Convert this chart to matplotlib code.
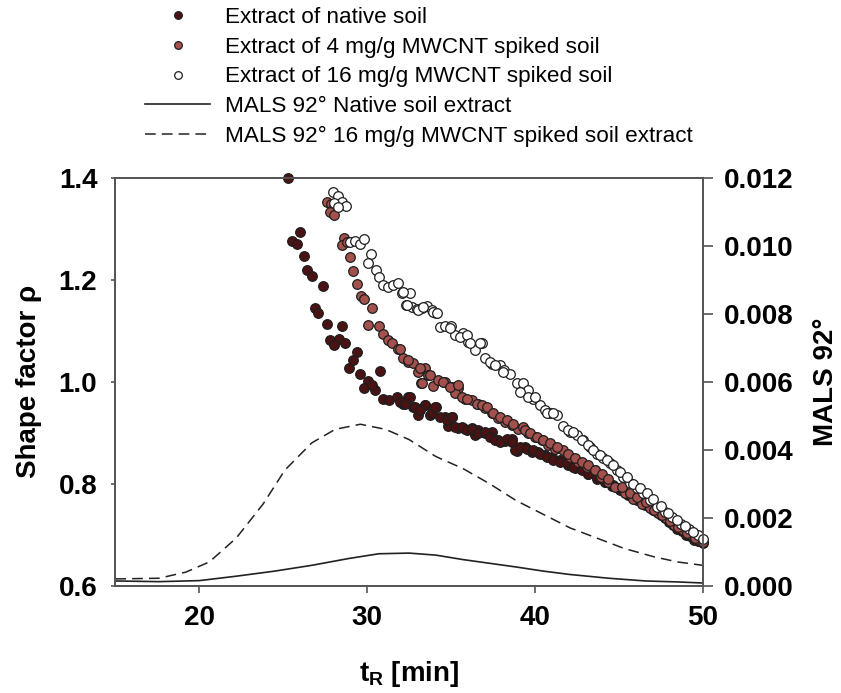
from matplotlib import pyplot as plt
from matplotlib.lines import Line2D

plt.rcParams['font.family'] = ['Liberation Sans', 'DejaVu Sans']
plt.rcParams['mathtext.fontset'] = 'custom'
plt.rcParams['mathtext.rm'] = 'Liberation Sans'
plt.rcParams['mathtext.bf'] = 'Liberation Sans:bold'

# Shape factor, extract of native soil
native_t = [25.3, 26.0, 25.5, 25.8, 26.26, 26.4, 26.7, 27.4, 26.9, 27.1,
            27.59, 28.5, 27.8, 28.3, 28.05, 28.7, 29.4, 29.14, 28.9, 29.6,
            30.8, 30.07, 29.8, 30.47, 30.27, 30.97, 31.3, 31.76, 32.05, 32.45,
            32.16, 32.75, 33.05, 33.45, 34.08, 33.75, 34.64, 35.04, 34.8, 35.43,
            35.83, 36.23, 36.63, 36.43, 37.02, 37.42, 37.82, 38.22, 38.61, 38.91,
            39.41, 39.8, 40.2, 40.6, 41.0, 41.5, 41.99, 42.39, 42.78, 43.18,
            43.68, 44.17, 44.57, 45.07, 45.56, 46.06, 46.56, 47.05, 47.5, 48.0,
            48.5, 49.0, 49.5, 50.0,
            31.96, 32.56, 32.26, 32.85, 33.45, 33.15, 33.85, 34.05, 34.34, 34.74,
            35.04, 35.24, 35.64, 35.93, 36.23, 36.63, 37.03, 37.32, 37.62, 37.92,
            38.32, 38.61, 38.81, 39.11, 39.51, 39.91, 40.3, 40.7, 41.1, 41.5,
            41.89, 42.29, 42.79, 43.18, 43.68, 44.18, 44.67, 45.17, 45.67, 46.3,
            46.8, 47.3, 47.75, 48.25, 48.75, 49.25, 49.75]
native_rho = [1.400, 1.294, 1.276, 1.270, 1.246, 1.219, 1.207, 1.188, 1.144, 1.135,
              1.114, 1.109, 1.082, 1.083, 1.072, 1.075, 1.059, 1.042, 1.026, 1.015,
              1.021, 1.002, 0.987, 0.984, 0.993, 0.966, 0.964, 0.970, 0.961, 0.970,
              0.956, 0.950, 0.935, 0.954, 0.950, 0.935, 0.931, 0.930, 0.913, 0.910,
              0.908, 0.910, 0.905, 0.895, 0.899, 0.902, 0.886, 0.884, 0.887, 0.865,
              0.873, 0.863, 0.863, 0.856, 0.853, 0.846, 0.837, 0.830, 0.837, 0.820,
              0.810, 0.804, 0.795, 0.788, 0.778, 0.768, 0.758, 0.748, 0.738, 0.725,
              0.712, 0.700, 0.690, 0.684,
              0.961, 0.970, 0.957, 0.951, 0.954, 0.944, 0.938, 0.951, 0.931, 0.925,
              0.931, 0.912, 0.912, 0.905, 0.908, 0.899, 0.902, 0.892, 0.885, 0.882,
              0.887, 0.882, 0.866, 0.872, 0.869, 0.866, 0.859, 0.853, 0.846, 0.843,
              0.840, 0.833, 0.827, 0.820, 0.814, 0.804, 0.797, 0.791, 0.781, 0.768,
              0.757, 0.745, 0.733, 0.720, 0.707, 0.697, 0.688]

# Shape factor, extract of 4 mg/g MWCNT spiked soil
spiked4_t = [27.59, 27.85, 27.98, 27.79, 28.04, 28.64, 28.48, 28.78, 28.98, 29.14,
             29.37, 29.63, 29.83, 30.27, 30.07, 30.73, 30.92, 31.22, 31.46, 31.86,
             32.16, 32.45, 32.75, 33.05, 33.45, 33.2, 33.65, 33.94, 34.24, 34.64,
             35.04, 35.43, 35.24, 35.83, 36.23, 36.63, 37.02, 37.42, 37.82, 38.22,
             38.61, 39.01, 39.31, 39.6, 40.0, 40.4, 40.8, 41.2, 41.69, 42.09,
             42.59, 43.08, 43.58, 43.97, 44.37, 44.77, 45.37, 45.86, 46.36, 46.86,
             47.35, 47.8, 48.3, 48.8, 49.3, 49.8, 50.0,
             31.96, 32.46, 33.15, 33.25, 33.75, 34.54, 34.94, 35.44, 35.64, 35.93,
             36.53, 36.83, 37.12, 37.52, 37.92, 38.32, 38.71, 39.41, 39.71, 40.1,
             40.5, 40.9, 41.3, 41.99, 42.39, 42.79, 43.18, 43.58, 43.98, 44.38,
             45.17, 45.67, 46.06, 46.6, 47.1, 47.6, 48.05, 48.55, 49.05, 49.55]
spiked4_rho = [1.353, 1.348, 1.338, 1.333, 1.327, 1.281, 1.268, 1.274, 1.244, 1.218,
               1.191, 1.168, 1.163, 1.144, 1.112, 1.110, 1.093, 1.082, 1.075, 1.064,
               1.046, 1.039, 1.036, 1.020, 1.026, 0.998, 1.013, 0.991, 1.003, 1.000,
               0.990, 0.987, 0.977, 0.967, 0.964, 0.957, 0.948, 0.938, 0.928, 0.922,
               0.915, 0.908, 0.912, 0.899, 0.892, 0.886, 0.876, 0.869, 0.866, 0.853,
               0.843, 0.833, 0.827, 0.814, 0.804, 0.794, 0.781, 0.771, 0.761, 0.752,
               0.742, 0.733, 0.720, 0.710, 0.700, 0.690, 0.686,
               1.065, 1.042, 1.026, 0.997, 1.013, 1.000, 0.990, 0.993, 0.970, 0.967,
               0.957, 0.954, 0.951, 0.938, 0.931, 0.925, 0.918, 0.905, 0.899, 0.892,
               0.885, 0.879, 0.872, 0.859, 0.850, 0.843, 0.836, 0.827, 0.820, 0.810,
               0.794, 0.781, 0.774, 0.764, 0.748, 0.738, 0.727, 0.715, 0.704, 0.694]

# Shape factor, extract of 16 mg/g MWCNT spiked soil
spiked16_t = [27.98, 28.24, 28.48, 28.72, 28.04, 28.28, 28.98, 29.28, 29.57, 29.83,
              30.23, 30.07, 30.53, 30.73, 30.96, 31.26, 31.56, 31.86, 32.1, 32.55,
              32.31, 32.65, 32.95, 33.25, 33.55, 33.84, 34.1, 34.34, 34.64, 35.0,
              35.24, 35.73, 35.99, 36.43, 36.82, 37.02, 37.42, 37.92, 38.17, 38.51,
              38.91, 39.31, 39.6, 39.9, 40.3, 40.6, 40.9, 41.29, 41.69, 42.09,
              42.49, 42.88, 43.28, 43.68, 44.08, 44.47, 44.87, 45.27, 45.66, 46.06,
              46.46, 46.86, 47.25, 47.75, 48.2, 48.7, 49.2, 49.7, 50.0,
              32.16, 32.36, 33.05, 33.35, 33.95, 34.15, 34.94, 35.54, 35.93, 36.13,
              36.73, 37.32, 37.62, 38.12, 39.11, 39.61, 40.01, 40.7, 41.1, 41.99,
              42.29, 42.79, 43.18, 43.48, 43.88, 44.28, 44.67, 45.07, 45.47, 45.87,
              46.26, 46.66, 47.05, 47.5, 47.95, 48.45, 48.95, 49.45]
spiked16_rho = [1.372, 1.364, 1.353, 1.344, 1.350, 1.343, 1.274, 1.276, 1.270, 1.280,
                1.250, 1.233, 1.219, 1.205, 1.190, 1.186, 1.190, 1.193, 1.174, 1.174,
                1.150, 1.147, 1.142, 1.144, 1.148, 1.140, 1.135, 1.108, 1.109, 1.109,
                1.091, 1.095, 1.078, 1.062, 1.075, 1.046, 1.035, 1.033, 1.023, 1.016,
                0.997, 0.998, 0.984, 0.967, 0.954, 0.944, 0.938, 0.935, 0.913, 0.902,
                0.895, 0.886, 0.872, 0.859, 0.850, 0.840, 0.827, 0.814, 0.801, 0.791,
                0.781, 0.768, 0.755, 0.745, 0.735, 0.722, 0.712, 0.700, 0.692,
                1.176, 1.150, 1.140, 1.147, 1.137, 1.134, 1.106, 1.088, 1.091, 1.075,
                1.075, 1.039, 1.033, 1.019, 0.980, 0.970, 0.970, 0.938, 0.938, 0.905,
                0.902, 0.885, 0.876, 0.866, 0.856, 0.846, 0.836, 0.823, 0.814, 0.800,
                0.791, 0.781, 0.770, 0.757, 0.742, 0.729, 0.717, 0.705]

# MALS 92 deg traces
mals_native_t = [15.0, 17.6, 20.0, 22.2, 24.5, 26.7, 28.9, 30.7, 32.5, 34.1,
                 35.7, 37.3, 38.9, 40.5, 42.1, 44.4, 46.6, 48.6, 50.0]
mals_native = [0.00014, 0.00012, 0.00015, 0.00028, 0.00043, 0.00060, 0.00080,
               0.00094, 0.00096, 0.00090, 0.00077, 0.00066, 0.00055, 0.00043,
               0.00033, 0.00022, 0.00014, 0.00011, 0.00008]
mals_16_t = [15.0, 17.6, 19.2, 20.6, 22.2, 23.8, 25.1, 26.7, 28.1, 29.6,
             31.1, 32.5, 34.1, 35.7, 37.3, 38.9, 40.5, 42.1, 43.7, 45.3,
             47.1, 48.5, 50.0]
mals_16 = [0.00020, 0.00022, 0.00040, 0.00070, 0.00140, 0.00240, 0.00340,
           0.00420, 0.00460, 0.00475, 0.00460, 0.00430, 0.00380, 0.00345,
           0.00300, 0.00250, 0.00210, 0.00170, 0.00140, 0.00110, 0.00085,
           0.00070, 0.00060]

labels = [
    'Extract of native soil',
    'Extract of 4 mg/g MWCNT spiked soil',
    'Extract of 16 mg/g MWCNT spiked soil',
    'MALS 92\u00b0 Native soil extract',
    'MALS 92\u00b0 16 mg/g MWCNT spiked soil extract',
]

dark_red = '#4a1212'
mid_red = '#a4514d'
edge = '#1e1e1e'
line_col = '#222222'
spine_col = '#555555'

fig = plt.figure(figsize=(8.41, 6.93), dpi=100)
ax = fig.add_axes([0.1372, 0.1548, 0.6983, 0.5887])
ax2 = ax.twinx()
# scatter on top of the MALS lines
ax.set_zorder(ax2.get_zorder() + 1)
ax.patch.set_visible(False)

ax2.plot(mals_native_t, mals_native, color=line_col, lw=1.2)
ax2.plot(mals_16_t, mals_16, color=line_col, lw=1.1, dashes=(7, 4))

ax.scatter(native_t, native_rho, s=48, c=dark_red, edgecolors=edge,
           linewidths=0.9, clip_on=False)
ax.scatter(spiked4_t, spiked4_rho, s=48, c=mid_red, edgecolors=edge,
           linewidths=0.9, clip_on=False)
ax.scatter(spiked16_t, spiked16_rho, s=48, c='white', edgecolors=edge,
           linewidths=0.9, clip_on=False)

ax.set_xlim(15, 50)
ax.set_ylim(0.6, 1.4)
ax2.set_ylim(0, 0.012)

ax.set_xticks([20, 30, 40, 50])
ax.set_xticklabels(['20', '30', '40', '50'], fontweight='bold')
yt = [0.6, 0.8, 1.0, 1.2, 1.4]
ax.set_yticks(yt)
ax.set_yticklabels([format(v, '.1f') for v in yt], fontweight='bold')
yt2 = [0.0, 0.002, 0.004, 0.006, 0.008, 0.010, 0.012]
ax2.set_yticks(yt2)
ax2.set_yticklabels([format(v, '.3f') for v in yt2], fontweight='bold')

for a in (ax, ax2):
    for sp in a.spines.values():
        sp.set_color(spine_col)
        sp.set_linewidth(1.3)

ax.tick_params(axis='x', direction='out', length=5, width=1.2,
               color=spine_col, labelsize=20, pad=9)
ax.tick_params(axis='y', direction='out', length=3, width=1.2,
               color=spine_col, labelsize=20, pad=10)
ax2.tick_params(axis='y', direction='out', length=7, width=1.2,
                color=spine_col, labelsize=20, pad=8)

ax.set_ylabel('Shape factor \u03c1', fontsize=20, fontweight='bold',
              labelpad=12)
ax2.set_ylabel('MALS 92\u00b0', fontsize=20, fontweight='bold', labelpad=14)
ax.set_xlabel(r'$\mathbf{t_R}$ [min]', fontsize=20, fontweight='bold',
              labelpad=20)

handles = [
    Line2D([], [], ls='none', marker='o', ms=5.5, mfc=dark_red, mec=edge, mew=0.9),
    Line2D([], [], ls='none', marker='o', ms=5.5, mfc=mid_red, mec=edge, mew=0.9),
    Line2D([], [], ls='none', marker='o', ms=5.5, mfc='white', mec=edge, mew=0.9),
    Line2D([], [], color=line_col, lw=1.2),
    Line2D([], [], color=line_col, lw=1.1, dashes=(7, 4)),
]
fig.legend(handles, labels, loc='upper left', bbox_to_anchor=(0.1724, 0.99),
           bbox_transform=fig.transFigure, frameon=False, fontsize=16.2,
           handlelength=2.9, handletextpad=0.67, labelspacing=0.39,
           borderpad=0, borderaxespad=0)

fig.savefig('out.png', dpi=100)
